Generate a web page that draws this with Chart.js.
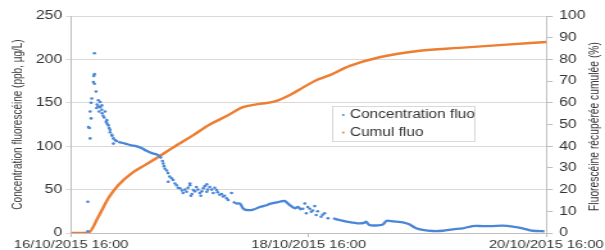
<!DOCTYPE html>
<html>
<head>
<meta charset="utf-8">
<script src="https://cdn.jsdelivr.net/npm/chart.js@4"></script>
<style>
  html, body { margin: 0; padding: 0; background: #fff; }
</style>
</head>
<body>
<!-- drawn at 472 wide and stretched to 605, like the reference -->
<canvas id="chart" width="472" height="250" style="display:block;width:605px;height:250px"></canvas>
<script>
// hours after 16/10/2015 16:00
const xTickHours = [0, 48, 96];
const xTickLabels = ['16/10/2015 16:00', '18/10/2015 16:00', '20/10/2015 16:00'];

const leftTitle = 'Concentration fluorescéine (ppb, µg/L)';
const rightTitle = 'Fluorescéine récupérée cumulée (%)';
const seriesNames = ['Concentration fluo', 'Cumul fluo'];

// concentration, single samples (dots)
const concHours = [
  3.37, 3.37, 3.49, 3.69, 3.83, 3.83, 4.03, 4.03, 4.17, 4.5, 4.58, 4.7, 4.7, 4.7,
  5.04, 5.15, 5.24, 5.44, 5.5, 5.65, 5.85, 5.85, 6.19, 6.19, 6.25, 6.45, 6.65, 6.85,
  7.06, 7.2, 7.26, 7.52, 7.66, 7.86, 7.86, 8.2, 8.27, 8.53, 8.53, 8.87, 9.17,
  18.45, 18.6, 18.75, 18.95, 19.3, 19.56, 19.6, 19.9, 20.3, 20.6, 20.97,
  21.3, 21.6, 22.0, 22.4, 22.6, 23.0, 23.3, 23.6, 24.0, 24.0, 24.2, 24.4, 24.7, 25.0,
  25.3, 25.6, 26.0, 26.2, 26.4, 26.7, 27.0, 27.4, 27.4, 27.6, 28.0, 28.4, 28.7, 29.0,
  29.4, 29.6, 30.0, 30.4, 30.7, 31.0, 31.4, 31.7, 32.4,
  46.8, 47.2, 47.5, 47.8, 48.2, 48.5, 48.8, 49.2, 49.5, 49.8, 50.5, 50.8, 51.2, 51.9
];
const concValues = [
  36, 2, 122, 121, 109, 140, 132, 150, 155, 174, 181, 183, 207, 172,
  163, 144, 148, 146, 153, 140, 151, 145, 147, 142, 138, 135, 133, 140,
  128, 130, 126, 124, 121, 119, 116, 113, 112, 109, 103, 107, 106,
  83, 80, 77, 74, 72, 69, 59, 65, 63, 61, 57,
  55, 52, 51.5, 49, 46, 50, 47.6, 52, 55, 57, 43, 45, 49.5, 48,
  53, 50, 46, 43, 48, 51.5, 54, 47.6, 56, 50, 53, 50, 46, 52,
  49.5, 47, 44, 45, 42, 43, 40, 38, 46,
  28, 34, 22.7, 30, 28, 24.5, 26, 31, 20.7, 25, 18.8, 21, 22.7, 17
];

// concentration, dense stretches that read as a line (null = gap)
const concLineHours = [
  9.5, 10.2, 10.9, 12.2, 13.1, 14.3, 15.1, 16.3, 17.5, 18.3,
  25,
  32.7, 33.4, 34.1, 34.7, 35.4, 36.8, 38.1, 39.5, 40.1, 42.1, 43.1, 44.2, 45.2, 45.8, 46.5,
  50,
  52.9, 54.2, 55.6, 56.9, 58.3, 59.3, 59.6, 60.3, 62.3, 63, 63.7, 64.3, 65.7, 67, 68.3,
  69.7, 71, 73, 75.1, 77.1, 79.1, 81.1, 83.1, 85.1, 87.2, 89.2, 91.2, 93.2, 95.6
];
const concLineValues = [
  105, 104, 103, 101, 100, 97.6, 95, 92, 90, 86,
  null,
  36, 34, 34, 28.5, 26.5, 27, 30, 32, 33.5, 36, 37, 32, 28.5, 30, 26.5,
  null,
  17, 15, 13, 12, 11, 12, 13, 9, 9, 10, 14, 14, 13, 12.3, 10,
  5.4, 3.5, 2.3, 2.6, 4.2, 5.4, 8, 8, 8, 8.4, 7.3, 5.4, 2.6, 2
];

// cumulated recovery (%)
const cumulHours = [0, 3.4, 5.5, 7.5, 9.5, 12.2, 14.9, 17.6, 20.3, 24.6, 28, 31.5, 34.7,
  38.1, 41, 44.2, 46.8, 49.6, 52, 56.3, 62.3, 70.4, 78.4, 86.5, 96];
const cumulValues = [0, 0, 7.5, 16, 22, 27.5, 31.3, 35, 39, 45, 50, 54, 58,
  59.5, 60.5, 63.6, 67, 70.5, 72.5, 77, 81, 84, 85.3, 86.6, 88];

const blue = '#4a86d8';
const orange = '#ed7d31';
const textColor = '#333333';

const pts = (xs, ys) => xs.map((x, i) => ({ x: x, y: ys[i] }));

Chart.defaults.font.family = '"Liberation Sans", Arial, sans-serif';
Chart.defaults.color = textColor;

const overlay = {
  id: 'overlay',
  afterDraw(chart) {
    const ctx = chart.ctx;
    const area = chart.chartArea;
    ctx.save();
    // right axis title, reading upwards
    ctx.font = '10.3px "Liberation Sans", Arial, sans-serif';
    ctx.fillStyle = textColor;
    ctx.textAlign = 'center';
    ctx.textBaseline = 'middle';
    ctx.translate(464, (area.top + area.bottom) / 2 + 2);
    ctx.rotate(-Math.PI / 2);
    ctx.fillText(rightTitle, 0, 0);
    ctx.restore();

    // legend box
    ctx.save();
    ctx.fillStyle = '#fff';
    ctx.strokeStyle = '#d9d9d9';
    ctx.lineWidth = 1;
    ctx.fillRect(259.5, 106.5, 111, 35);
    ctx.strokeRect(259.5, 106.5, 111, 35);
    const colors = [blue, orange];
    ctx.font = '12px "Liberation Sans", Arial, sans-serif';
    ctx.textBaseline = 'middle';
    seriesNames.forEach((name, i) => {
      const y = 115 + i * 17.6;
      ctx.fillStyle = colors[i];
      ctx.beginPath();
      ctx.arc(267.8, y, 1, 0, Math.PI * 2);
      ctx.fill();
      ctx.fillStyle = textColor;
      ctx.fillText(name, 273, y);
    });
    ctx.restore();
  }
};

const xTickFont = { size: 11.5 };
const yTickFont = { size: 12.3 };

new Chart(document.getElementById('chart'), {
  type: 'scatter',
  data: {
    datasets: [
      {
        label: seriesNames[0],
        data: pts(concHours, concValues),
        backgroundColor: blue,
        borderColor: blue,
        pointRadius: 1.3,
        pointBorderWidth: 0,
        showLine: false,
        yAxisID: 'y'
      },
      {
        label: seriesNames[0] + ' (dense)',
        data: pts(concLineHours, concLineValues),
        borderColor: blue,
        borderWidth: 2.3,
        pointRadius: 0,
        showLine: true,
        tension: 0.3,
        spanGaps: false,
        yAxisID: 'y'
      },
      {
        label: seriesNames[1],
        data: pts(cumulHours, cumulValues),
        borderColor: orange,
        borderWidth: 2.4,
        pointRadius: 0,
        showLine: true,
        cubicInterpolationMode: 'monotone',
        yAxisID: 'y1'
      }
    ]
  },
  options: {
    responsive: false,
    animation: false,
    layout: { padding: { top: 16, left: 0, right: 0, bottom: 0 } },
    plugins: {
      legend: { display: false },
      tooltip: { enabled: false }
    },
    scales: {
      x: {
        type: 'linear',
        min: 0,
        max: 96,
        afterBuildTicks: s => { s.ticks = xTickHours.map(v => ({ value: v })); },
        afterFit: s => { s.height = 17; },
        ticks: {
          autoSkip: false,
          maxRotation: 0,
          padding: 1,
          font: xTickFont,
          color: textColor,
          callback: v => xTickLabels[xTickHours.indexOf(v)]
        },
        grid: { drawOnChartArea: false, tickLength: 4, color: '#bfbfbf' },
        border: { color: '#bfbfbf' }
      },
      y: {
        position: 'left',
        min: 0,
        max: 250,
        afterFit: s => { s.width = 55.5; },
        ticks: { stepSize: 50, padding: 3, font: yTickFont, color: textColor },
        grid: { color: '#d9d9d9', tickLength: 4 },
        border: { color: '#bfbfbf' },
        title: {
          display: true,
          text: leftTitle,
          color: textColor,
          font: { size: 10 },
          padding: { top: 8, bottom: 0 }
        }
      },
      y1: {
        position: 'right',
        min: 0,
        max: 100,
        afterFit: s => { s.width = 45; },
        ticks: { stepSize: 10, padding: 5, font: yTickFont, color: textColor },
        grid: { drawOnChartArea: false, tickLength: 5, color: '#bfbfbf' },
        border: { color: '#bfbfbf' }
      }
    }
  },
  plugins: [overlay]
});
</script>
</body>
</html>
